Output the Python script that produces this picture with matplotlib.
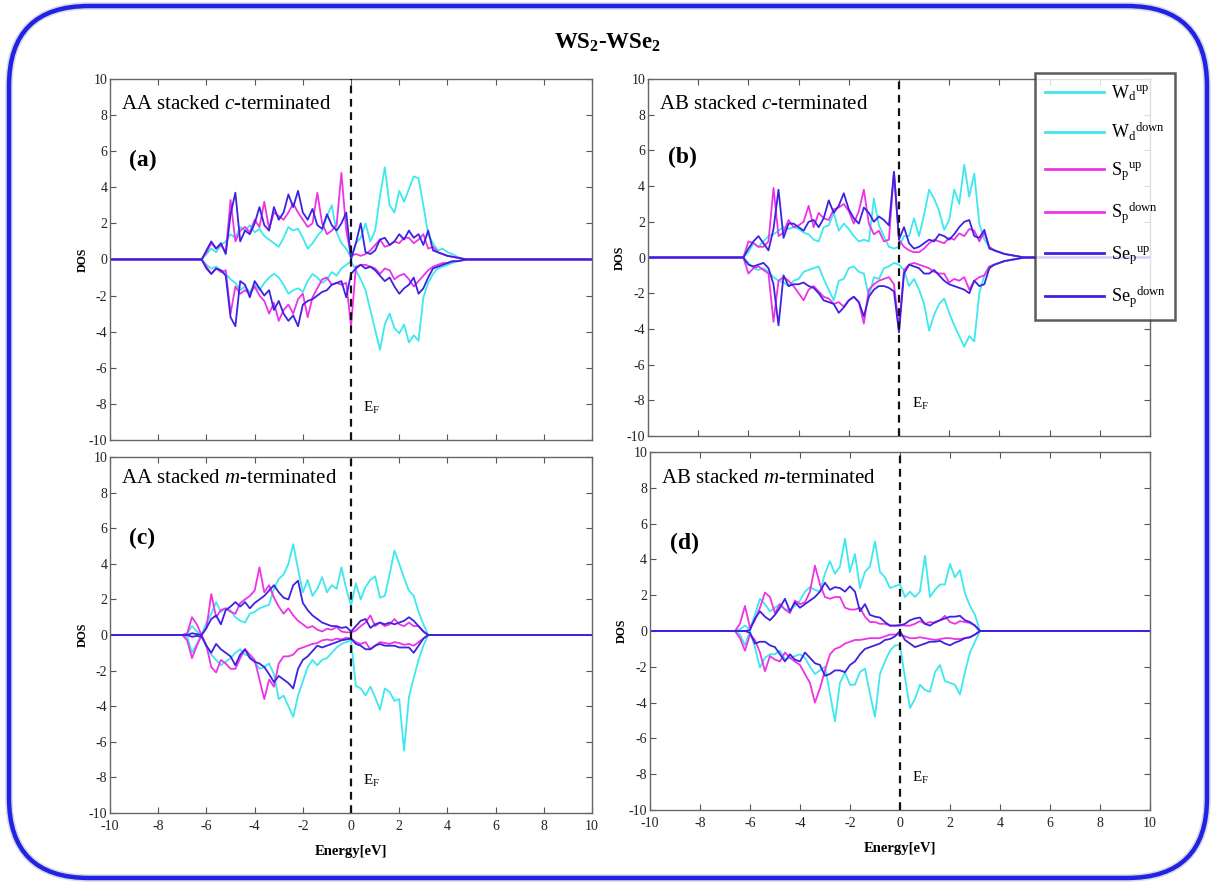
import numpy as np
import matplotlib
matplotlib.use('Agg')
import matplotlib.pyplot as plt
from matplotlib.patches import FancyBboxPatch

# Fonts: Times-like everywhere, also inside mathtext
plt.rcParams['font.family'] = ['Liberation Serif', 'DejaVu Serif']
plt.rcParams['mathtext.fontset'] = 'custom'
plt.rcParams['mathtext.rm'] = 'Liberation Serif'
plt.rcParams['mathtext.it'] = 'Liberation Serif:italic'
plt.rcParams['mathtext.bf'] = 'Liberation Serif:bold'
plt.rcParams['axes.unicode_minus'] = False

# Energy grid (eV)
energy = [
    -10.0, -7.0, -6.8, -6.6, -6.4, -6.2, -6.0, -5.8, -5.6, -5.4, -5.2,
    -5.0, -4.8, -4.6, -4.4, -4.2, -4.0, -3.8, -3.6, -3.4, -3.2,
    -3.0, -2.8, -2.6, -2.4, -2.2, -2.0, -1.8, -1.6, -1.4, -1.2,
    -1.0, -0.8, -0.6, -0.4, -0.2, 0.0, 0.2, 0.4, 0.6, 0.8,
    1.0, 1.2, 1.4, 1.6, 1.8, 2.0, 2.2, 2.4, 2.6, 2.8,
    3.0, 3.2, 3.4, 3.6, 3.8, 4.0, 4.2, 4.4, 4.6, 4.8, 5.0, 10.0]

# (a) AA stacked c-terminated
aa_c_wd_up = [
    0, 0, 0, 0, 0, 0, 0.3, 0.6, 0.4, 0.8, 1.0,
    1.4, 1.2, 1.8, 1.6, 1.9, 1.5, 1.7, 1.3, 1.1, 0.9,
    0.7, 1.2, 1.8, 1.6, 1.7, 1.2, 0.6, 0.9, 1.3, 1.6,
    2.4, 3.0, 1.5, 0.9, 0.6, 0.1, 0.9, 1.2, 2.0, 1.0,
    1.6, 3.5, 5.1, 3.0, 2.6, 3.8, 3.2, 3.9, 4.6, 4.5,
    3.0, 1.4, 0.9, 0.5, 0.6, 0.4, 0.3, 0.15, 0.05, 0, 0, 0]
aa_c_wd_dn = [
    0, 0, 0, 0, 0, 0, -0.3, -0.5, -0.4, -0.6, -0.8,
    -1.1, -1.3, -1.7, -1.5, -1.8, -1.4, -1.7, -1.3, -1.0, -0.8,
    -1.0, -1.4, -1.9, -1.7, -1.6, -1.8, -1.2, -0.8, -1.0, -1.3,
    -1.1, -0.7, -0.9, -0.5, -0.3, -0.1, -0.6, -1.1, -1.7, -2.8,
    -3.9, -5.0, -3.6, -3.0, -3.8, -4.1, -3.6, -4.6, -4.2, -4.5,
    -2.1, -1.3, -0.8, -0.5, -0.4, -0.3, -0.2, -0.1, -0.05, 0, 0, 0]
aa_c_sp_up = [
    0, 0, 0, 0, 0, 0, 0.4, 0.9, 0.6, 0.8, 0.4,
    3.3, 1.0, 1.6, 1.8, 1.5, 2.2, 1.8, 3.2, 1.7, 2.6,
    2.4, 2.2, 2.6, 3.1, 2.6, 2.2, 1.8, 2.0, 3.7, 2.0,
    1.4, 1.6, 1.9, 4.8, 1.6, 0.2, 0.3, 0.2, 0.3, 0.5,
    0.8, 1.1, 0.7, 0.8, 1.0, 0.9, 1.2, 1.2, 0.9, 1.1,
    1.4, 0.6, 0.7, 0.4, 0.3, 0.2, 0.15, 0.1, 0.05, 0, 0, 0]
aa_c_sp_dn = [
    0, 0, 0, 0, 0, 0, -0.4, -0.8, -0.5, -0.7, -0.6,
    -3.0, -1.5, -1.9, -1.7, -1.9, -1.5, -2.0, -2.3, -3.0, -2.4,
    -3.4, -2.8, -2.5, -3.0, -2.2, -1.9, -3.2, -2.1, -1.6, -1.1,
    -1.0, -1.4, -1.3, -1.4, -1.3, -3.7, -0.4, -0.3, -0.3, -0.4,
    -0.5, -0.8, -0.5, -0.6, -1.1, -0.9, -0.8, -1.1, -1.5, -1.2,
    -0.9, -0.6, -0.4, -0.3, -0.2, -0.2, -0.1, -0.1, -0.05, 0, 0, 0]
aa_c_sep_up = [
    0, 0, 0, 0, 0, 0, 0.5, 1.0, 0.6, 0.9, 0.3,
    2.5, 3.7, 1.0, 1.6, 1.4, 2.0, 2.9, 1.9, 1.6, 2.9,
    2.2, 2.6, 3.6, 2.9, 3.8, 2.6, 2.2, 2.8, 1.9, 1.7,
    2.5, 1.9, 1.6, 2.0, 2.6, 0.0, 0.9, 2.0, 0.4, 0.3,
    0.5, 1.1, 1.2, 0.8, 1.0, 1.4, 1.1, 1.6, 1.2, 1.4,
    0.8, 1.6, 0.5, 0.4, 0.3, 0.2, 0.15, 0.1, 0.05, 0, 0, 0]
aa_c_sep_dn = [
    0, 0, 0, 0, 0, 0, -0.5, -0.8, -0.5, -0.6, -0.9,
    -3.2, -3.7, -1.2, -1.4, -2.1, -1.2, -1.6, -2.0, -1.7, -2.8,
    -2.3, -3.0, -3.4, -3.1, -3.7, -2.5, -2.3, -2.2, -2.0, -1.8,
    -1.7, -1.4, -1.3, -1.2, -2.1, -0.8, -0.5, -0.3, -0.5, -0.4,
    -0.6, -0.9, -1.2, -1.0, -1.5, -1.9, -1.6, -1.4, -1.0, -1.9,
    -1.6, -1.0, -0.5, -0.4, -0.3, -0.2, -0.1, -0.1, -0.05, 0, 0, 0]

# (b) AB stacked c-terminated
ab_c_wd_up = [
    0, 0, 0, 0, 0, 0, 0.3, 0.8, 0.6, 0.9, 1.2,
    1.3, 1.5, 1.7, 1.6, 1.7, 1.6, 1.4, 1.3, 1.0, 0.9,
    1.7, 1.8, 2.5, 1.5, 1.9, 1.6, 1.2, 0.9, 1.0, 0.9,
    3.3, 1.8, 1.2, 0.6, 0.5, 0.6, 1.2, 1.2, 2.2, 1.2,
    2.4, 3.8, 3.3, 2.6, 1.55, 2.1, 3.8, 3.0, 5.2, 3.4,
    4.7, 1.9, 1.0, 0.6, 0.4, 0.3, 0.2, 0.15, 0.1, 0.05, 0, 0]
ab_c_wd_dn = [
    0, 0, 0, 0, 0, 0, -0.3, -0.6, -0.7, -0.6, -0.8,
    -1.1, -1.3, -1.4, -1.6, -1.3, -1.2, -0.8, -0.7, -0.6, -0.5,
    -1.2, -1.8, -2.4, -1.3, -1.2, -0.6, -0.5, -0.8, -0.9, -2.2,
    -1.1, -1.2, -0.6, -0.5, -0.3, -0.4, -0.7, -1.6, -1.2, -1.8,
    -2.6, -4.1, -3.2, -2.6, -2.3, -3.1, -3.8, -4.4, -5.0, -4.4,
    -4.7, -2.0, -1.0, -0.5, -0.4, -0.3, -0.2, -0.15, -0.1, -0.05, 0, 0]
ab_c_sp_up = [
    0, 0, 0, 0, 0, 0, 0.9, 0.8, 0.6, 0.6, 0.9,
    3.9, 1.2, 1.4, 2.1, 1.7, 1.8, 2.0, 2.9, 1.7, 2.5,
    2.2, 2.1, 2.7, 2.8, 3.0, 2.6, 1.9, 2.6, 3.8, 1.9,
    1.3, 1.5, 0.9, 1.0, 4.8, 1.0, 0.6, 0.4, 0.3, 0.3,
    0.5, 0.8, 1.0, 0.9, 0.8, 1.1, 1.0, 1.35, 1.2, 1.6,
    1.5, 0.9, 1.4, 0.6, 0.4, 0.3, 0.2, 0.15, 0.1, 0.05, 0, 0]
ab_c_sp_dn = [
    0, 0, 0, 0, 0, 0, -0.9, -0.6, -0.5, -0.7, -0.9,
    -3.6, -1.3, -1.1, -1.3, -1.6, -2.0, -2.4, -1.8, -1.6, -1.9,
    -2.2, -2.3, -2.6, -2.5, -2.75, -2.4, -2.2, -2.5, -3.7, -1.8,
    -1.5, -1.3, -1.2, -1.1, -1.5, -3.9, -0.7, -0.4, -0.3, -0.4,
    -0.5, -0.6, -0.8, -0.9, -0.9, -1.4, -1.2, -1.3, -1.1, -1.8,
    -1.3, -1.1, -1.0, -0.5, -0.4, -0.3, -0.2, -0.15, -0.1, -0.05, 0, 0]
ab_c_sep_up = [
    0, 0, 0, 0, 0, 0, 0.5, 0.9, 1.2, 0.8, 0.4,
    1.6, 3.8, 1.1, 1.9, 1.9, 1.7, 1.5, 2.0, 2.1, 1.7,
    2.2, 3.2, 2.5, 2.9, 3.6, 2.7, 2.2, 1.9, 2.8, 2.5,
    2.0, 2.3, 2.1, 1.8, 4.8, 1.0, 1.7, 0.8, 0.5, 0.6,
    0.8, 1.0, 0.9, 1.3, 1.2, 1.0, 1.3, 1.7, 2.0, 2.1,
    1.2, 1.1, 1.55, 0.5, 0.4, 0.3, 0.2, 0.15, 0.1, 0.05, 0, 0]
ab_c_sep_dn = [
    0, 0, 0, 0, 0, 0, -0.4, -0.5, -0.4, -0.3, -0.6,
    -1.5, -3.8, -1.0, -1.6, -1.5, -1.5, -1.4, -1.6, -1.7, -2.0,
    -2.4, -2.5, -2.6, -3.1, -2.8, -2.4, -2.2, -2.5, -3.3, -2.2,
    -1.8, -1.6, -1.6, -1.7, -1.9, -4.2, -0.9, -0.4, -0.5, -0.6,
    -0.9, -0.9, -0.7, -1.0, -1.3, -1.5, -1.6, -1.7, -1.8, -2.0,
    -1.3, -1.6, -1.5, -0.6, -0.4, -0.3, -0.2, -0.15, -0.1, -0.05, 0, 0]

# (c) AA stacked m-terminated
aa_m_wd_up = [
    0, 0, 0.1, 0.5, 0.2, 0.0, 0.7, 1.2, 1.85, 1.3, 1.5,
    1.4, 1.0, 0.8, 0.7, 1.2, 1.3, 1.5, 1.6, 1.7, 2.6,
    3.15, 3.4, 4.0, 5.1, 3.7, 2.4, 3.1, 2.2, 2.6, 3.25,
    2.4, 2.8, 2.6, 3.8, 2.6, 1.65, 2.9, 2.0, 2.7, 3.1,
    3.3, 2.1, 2.2, 3.4, 4.75, 4.0, 3.2, 2.5, 2.2, 1.3,
    0.6, 0, 0, 0, 0, 0, 0, 0, 0, 0, 0, 0]
aa_m_wd_dn = [
    0, 0, -0.1, -1.0, -0.5, 0.0, -0.7, -1.1, -1.4, -1.7, -1.5,
    -1.3, -1.0, -0.8, -1.1, -1.2, -1.5, -1.9, -1.8, -1.6, -2.2,
    -3.6, -3.4, -4.0, -4.6, -3.4, -2.6, -1.8, -1.4, -1.7, -1.4,
    -1.3, -1.0, -0.7, -0.5, -0.4, -0.3, -2.85, -3.0, -3.4, -2.9,
    -3.5, -4.2, -3.0, -3.2, -3.7, -3.6, -6.5, -3.5, -2.4, -1.4,
    -0.6, 0, 0, 0, 0, 0, 0, 0, 0, 0, 0, 0]
aa_m_sp_up = [
    0, 0, 0.1, 1.0, 0.6, 0.0, 0.4, 2.3, 1.0, 1.4, 1.5,
    1.3, 1.2, 1.8, 2.0, 2.2, 2.5, 3.8, 2.4, 2.8, 2.1,
    1.6, 1.2, 1.5, 1.1, 0.8, 0.6, 0.4, 0.5, 0.3, 0.2,
    0.35, 0.3, 0.45, 0.2, 0.15, 0.15, 0.25, 0.5, 0.7, 1.1,
    0.5, 0.7, 0.5, 0.6, 0.9, 0.6, 0.5, 0.7, 0.5, 0.5,
    0.2, 0, 0, 0, 0, 0, 0, 0, 0, 0, 0, 0]
aa_m_sp_dn = [
    0, 0, -0.3, -1.3, -0.6, 0.0, -0.6, -1.8, -2.1, -1.4, -1.6,
    -1.9, -1.9, -1.3, -0.8, -1.1, -1.4, -2.5, -3.6, -2.5, -2.9,
    -1.6, -1.2, -1.2, -1.1, -0.8, -0.7, -0.6, -0.5, -0.45, -0.3,
    -0.25, -0.3, -0.2, -0.25, -0.15, -0.2, -0.4, -0.5, -0.4, -0.8,
    -0.6, -0.4, -0.45, -0.5, -0.4, -0.45, -0.55, -0.5, -0.6, -0.4,
    -0.2, 0, 0, 0, 0, 0, 0, 0, 0, 0, 0, 0]
aa_m_sep_up = [
    0, 0, 0, 0.1, 0.05, 0.0, 0.4, 0.9, 1.1, 0.6, 1.4,
    1.6, 1.85, 1.6, 1.85, 1.5, 1.8, 2.0, 2.2, 2.5, 2.8,
    2.4, 2.1, 2.0, 2.8, 3.05, 1.8, 1.4, 1.1, 0.9, 0.7,
    0.6, 0.5, 0.5, 0.4, 0.45, 0.2, 0.5, 0.8, 0.9, 0.4,
    0.6, 0.7, 0.6, 0.7, 0.6, 0.7, 0.8, 1.0, 0.8, 0.5,
    0.2, 0, 0, 0, 0, 0, 0, 0, 0, 0, 0, 0]
aa_m_sep_dn = [
    0, 0, 0, -0.1, -0.05, -0.1, -0.6, -1.0, -0.5, -0.8, -1.0,
    -1.2, -1.7, -1.1, -0.8, -1.3, -1.5, -1.6, -1.8, -2.2, -2.65,
    -2.3, -2.5, -2.7, -3.0, -1.9, -1.4, -1.2, -0.9, -0.6, -0.7,
    -0.6, -0.5, -0.4, -0.3, -0.25, -0.2, -0.5, -0.6, -0.8, -0.8,
    -0.6, -0.5, -0.6, -0.6, -0.6, -0.7, -0.7, -0.7, -1.0, -0.6,
    -0.2, 0, 0, 0, 0, 0, 0, 0, 0, 0, 0, 0]

# (d) AB stacked m-terminated
ab_m_wd_up = [
    0, 0, 0, 0, 0.1, 0.3, 0.1, 0.9, 1.8, 1.5, 1.1,
    1.3, 1.5, 1.2, 1.2, 1.4, 1.7, 2.2, 2.45, 2.3, 2.2,
    3.2, 3.9, 3.2, 3.6, 5.15, 3.3, 4.3, 2.4, 3.3, 3.6,
    5.0, 3.3, 3.0, 2.4, 2.5, 2.6, 1.9, 2.2, 1.9, 2.2,
    4.2, 1.9, 2.3, 2.6, 2.6, 3.75, 3.0, 3.4, 2.1, 1.4,
    0.9, 0, 0, 0, 0, 0, 0, 0, 0, 0, 0, 0]
ab_m_wd_dn = [
    0, 0, 0, 0, -0.2, -0.8, 0.0, -0.9, -2.05, -1.5, -1.3,
    -1.3, -1.1, -1.6, -1.5, -1.4, -1.3, -1.5, -2.0, -2.4, -2.2,
    -2.0, -3.5, -5.05, -2.9, -2.3, -3.0, -3.0, -2.3, -2.1, -3.5,
    -4.8, -2.4, -1.7, -1.1, -0.8, -0.8, -2.6, -4.3, -3.8, -3.0,
    -3.3, -3.4, -2.3, -1.9, -2.8, -2.9, -3.0, -3.55, -2.3, -1.2,
    -0.6, 0, 0, 0, 0, 0, 0, 0, 0, 0, 0, 0]
ab_m_sp_up = [
    0, 0, 0, 0.0, 0.4, 1.4, 0.2, 0.6, 1.3, 2.15, 1.9,
    1.0, 1.5, 1.2, 1.0, 1.7, 1.5, 1.6, 2.2, 3.65, 2.6,
    1.9, 1.8, 1.9, 1.9, 1.3, 1.2, 1.2, 1.3, 0.8, 0.5,
    0.5, 0.4, 0.4, 0.3, 0.3, 0.35, 0.3, 0.3, 0.4, 0.55,
    0.4, 0.5, 0.45, 0.6, 0.85, 0.5, 0.4, 0.55, 0.5, 0.45,
    0.3, 0, 0, 0, 0, 0, 0, 0, 0, 0, 0, 0]
ab_m_sp_dn = [
    0, 0, 0, 0, -0.4, -1.1, -0.2, -0.5, -1.2, -2.25, -1.4,
    -1.6, -1.7, -1.2, -1.5, -1.7, -1.9, -2.4, -2.9, -4.0, -3.2,
    -2.2, -1.3, -1.0, -0.9, -0.7, -0.6, -0.5, -0.5, -0.45, -0.4,
    -0.4, -0.4, -0.3, -0.2, -0.2, -0.2, -0.3, -0.4, -0.4, -0.35,
    -0.4, -0.45, -0.5, -0.45, -0.4, -0.4, -0.45, -0.45, -0.4, -0.35,
    -0.2, 0, 0, 0, 0, 0, 0, 0, 0, 0, 0, 0]
ab_m_sep_up = [
    0, 0, 0, 0, 0, 0.0, 0.05, 0.7, 1.1, 0.8, 0.6,
    0.9, 1.3, 1.8, 1.1, 1.6, 1.3, 1.5, 1.7, 1.9, 2.2,
    2.7, 2.3, 2.45, 2.4, 2.2, 2.5, 2.2, 1.1, 1.5, 0.9,
    0.8, 0.75, 0.5, 0.3, 0.3, 0.3, 0.4, 0.6, 0.7, 0.75,
    0.4, 0.3, 0.5, 0.6, 0.7, 0.8, 0.8, 0.85, 0.6, 0.5,
    0.3, 0, 0, 0, 0, 0, 0, 0, 0, 0, 0, 0]
ab_m_sep_dn = [
    0, 0, 0, 0, 0, 0.0, -0.1, -0.7, -0.6, -0.6, -0.8,
    -0.9, -1.3, -1.7, -1.3, -1.6, -1.7, -1.2, -1.5, -1.8, -1.9,
    -2.5, -2.4, -2.2, -2.2, -2.3, -1.9, -1.7, -1.3, -1.0, -0.9,
    -0.8, -0.7, -0.5, -0.45, -0.3, 0.0, -0.5, -0.7, -0.9, -0.8,
    -0.7, -0.6, -0.6, -0.55, -0.7, -0.8, -0.65, -0.55, -0.4, -0.35,
    -0.2, 0, 0, 0, 0, 0, 0, 0, 0, 0, 0, 0]

labels = [r'W$_\mathrm{d}$$^\mathrm{up}$', r'W$_\mathrm{d}$$^\mathrm{down}$',
          r'S$_\mathrm{p}$$^\mathrm{up}$', r'S$_\mathrm{p}$$^\mathrm{down}$',
          r'Se$_\mathrm{p}$$^\mathrm{up}$', r'Se$_\mathrm{p}$$^\mathrm{down}$']
colors = ['#3DE8EE', '#3DE8EE', '#EE33E6', '#EE33E6', '#3D22E2', '#3D22E2']

# (title, tag, title height, tag height, curves)
panels = [
    ('AA stacked $c$-terminated', '(a)', 8.6, 5.5,
     [aa_c_wd_up, aa_c_wd_dn, aa_c_sp_up, aa_c_sp_dn, aa_c_sep_up, aa_c_sep_dn]),
    ('AB stacked $c$-terminated', '(b)', 8.6, 5.6,
     [ab_c_wd_up, ab_c_wd_dn, ab_c_sp_up, ab_c_sp_dn, ab_c_sep_up, ab_c_sep_dn]),
    ('AA stacked $m$-terminated', '(c)', 8.8, 5.4,
     [aa_m_wd_up, aa_m_wd_dn, aa_m_sp_up, aa_m_sp_dn, aa_m_sep_up, aa_m_sep_dn]),
    ('AB stacked $m$-terminated', '(d)', 8.5, 4.9,
     [ab_m_wd_up, ab_m_wd_dn, ab_m_sp_up, ab_m_sp_dn, ab_m_sep_up, ab_m_sep_dn]),
]

# axes boxes in figure fractions (left, bottom, width, height)
boxes = [
    [0.0905, 0.5023, 0.3964, 0.4084],
    [0.5329, 0.5068, 0.4128, 0.4038],
    [0.0905, 0.0803, 0.3964, 0.4027],
    [0.5345, 0.0837, 0.4112, 0.4050],
]


def draw_panel(ax, title, tag, title_y, tag_y, curves, bottom_row):
    lines = []
    for dos, color, lab in zip(curves, colors, labels):
        ln, = ax.plot(energy, dos, color=color, lw=1.3, label=lab)
        lines.append(ln)
    ax.axvline(0, color='#111111', lw=1.6, ls=(0, (3.5, 2.5)), zorder=5)
    ax.set_xlim(-10, 10)
    ax.set_ylim(-10, 10)
    ax.set_xticks(range(-10, 11, 2))
    ax.set_yticks(range(-10, 11, 2))
    ax.tick_params(direction='in', top=True, right=True, length=4, width=0.8,
                   color='#555555', labelsize=10, labelcolor='#222222')
    ax.tick_params(axis='y', pad=2)
    ax.tick_params(axis='x', pad=5)
    for sp in ax.spines.values():
        sp.set_color('#666666')
        sp.set_linewidth(1.0)
    if bottom_row:
        ax.set_xlabel('Energy[eV]', fontsize=10.5, fontweight='bold', labelpad=9)
    else:
        ax.set_xticklabels([])
    ax.set_ylabel('DOS', fontsize=8.5, fontweight='bold')
    ax.yaxis.set_label_coords(-0.045, 0.5)
    ax.text(-9.55, title_y, title, fontsize=15, ha='left', va='center')
    ax.text(-9.2, tag_y, tag, fontsize=17, fontweight='bold', ha='left', va='center')
    ax.text(0.5, -8.2, r'E$_\mathrm{F}$', fontsize=11, ha='left', va='center')
    return lines


fig = plt.figure(figsize=(12.16, 8.84), dpi=100)

# rounded blue frame behind the panels, drawn in pixel units
bg = fig.add_axes([0, 0, 1, 1], zorder=-1)
bg.set_xlim(0, 1216)
bg.set_ylim(0, 884)
bg.axis('off')
bg.add_patch(FancyBboxPatch((9, 6), 1198, 872, boxstyle='round,pad=0,rounding_size=80',
                            fc='white', ec='#DADAE6', lw=5.5))
bg.add_patch(FancyBboxPatch((9, 6), 1198, 872, boxstyle='round,pad=0,rounding_size=80',
                            fc='none', ec='#2222E6', lw=3.2))

handles = None
for i, (title, tag, title_y, tag_y, curves) in enumerate(panels):
    ax = fig.add_axes(boxes[i])
    lines = draw_panel(ax, title, tag, title_y, tag_y, curves, i >= 2)
    if i == 1:
        handles = lines

fig.text(0.5, 0.952, r'WS$_\mathbf{2}$-WSe$_\mathbf{2}$', fontsize=16.5, fontweight='bold',
         ha='center', va='center')

leg = fig.legend(handles=handles, labels=labels, loc='upper left',
                 bbox_to_anchor=(0.851, 0.917), fontsize=13, frameon=True, fancybox=False,
                 handlelength=3.3, handletextpad=0.35, labelspacing=0.98,
                 borderpad=0.55, borderaxespad=0)
leg.get_frame().set_edgecolor('#333333')
leg.get_frame().set_linewidth(1.8)
for ln in leg.get_lines():
    ln.set_linewidth(2.0)

fig.savefig('out.png', dpi=100)
